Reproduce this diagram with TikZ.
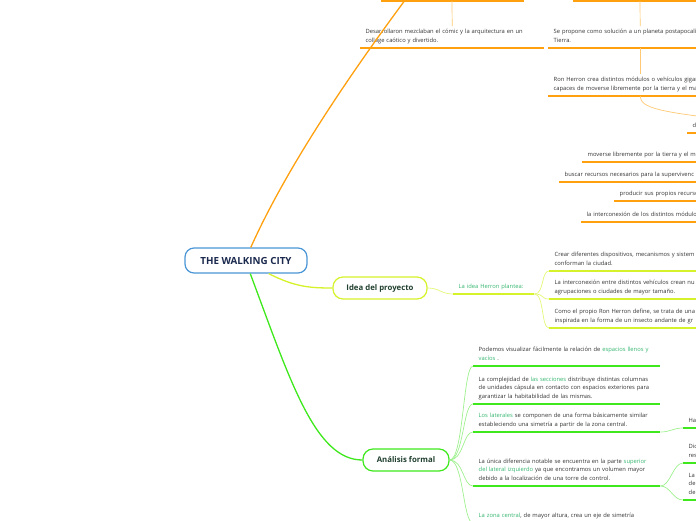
\documentclass[tikz,border=0pt]{standalone}
\usepackage{fontspec}
\setmainfont{Open Sans}
\usepackage{xcolor}
\usetikzlibrary{positioning}

\definecolor{rootblue}{HTML}{4A96D6}
\definecolor{rootink}{HTML}{1B2A4E}
\definecolor{topicink}{HTML}{21402F}
\definecolor{leafink}{HTML}{333333}
\definecolor{hlgreen}{HTML}{34B56E}
\definecolor{orng}{HTML}{FFA00F}
\definecolor{orngthin}{HTML}{FFC873}
\definecolor{lime}{HTML}{D6F22A}
\definecolor{limethin}{HTML}{E4F77A}
\definecolor{grn}{HTML}{3EE81C}
\definecolor{grnthin}{HTML}{9EF08E}

\newcommand{\hlt}[1]{\textcolor{hlgreen}{#1}}

\begin{document}
\begin{tikzpicture}[
    x=1pt, y=-1pt,
    root/.style={draw=rootblue, line width=1.2pt, rounded corners=9pt, fill=white, text=rootink, font=\bfseries\fontsize{9.8}{11}\selectfont, minimum width=122pt, minimum height=25pt},
    topic/.style={line width=1.2pt, rounded corners=10pt, fill=white, text=topicink, font=\bfseries\fontsize{7.8}{9}\selectfont, minimum height=22pt},
    leaf/.style={anchor=south west, align=left, inner xsep=5.5pt, inner ysep=3pt, text=leafink, font=\fontsize{5.8}{8.5}\selectfont, execute at end node=\strut},
    branch/.style={line width=1.3pt},
    twig/.style={line width=0.7pt},
    uline/.style={line width=1.6pt}
]
    \useasboundingbox (0,0) rectangle (696,520);
    \clip (0,0) rectangle (696,520);

    \node (root) [root] at (246,260.5) {THE WALKING CITY};

    % orange branch (topics above the frame)
    \coordinate (orngtopic) at (420,-20);
    \coordinate (topa) at (452,1);
    \coordinate (topb) at (640,1);
    \coordinate (ronhkid) at (730,120);
    \draw [orng, uline] (topa) +(-71,0) -- +(72,0);
    \draw [orng, uline] (topb) +(-67,0) -- +(100,0);

    \node (desa) [leaf, text width=173pt] at (360,48) {Desarrollaron mezclaban el cómic y la arquitectura en un\\collage caótico y divertido.};
    \node (prop) [leaf, text width=173pt] at (548,48) {Se propone como solución a un planeta postapocalí\\Tierra.};
    \node (ronh) [leaf, text width=173pt] at (548,96) {Ron Herron crea distintos módulos o vehículos gigan\\capaces de moverse libremente por la tierra y el ma};
    \node (dnode) [leaf, text width=60pt] at (687,133) {d};
    \node (mov) [leaf, text width=150pt] at (582,162) {moverse libremente por la tierra y el m};
    \node (busc) [leaf, text width=150pt] at (559,182) {buscar recursos necesarios para la supervivenc};
    \node (prod) [leaf, text width=150pt] at (614,201) {producir sus propios recurso};
    \node (inter) [leaf, text width=150pt] at (581,222) {la interconexión de los distintos módulo};

    \draw [orng, branch] (root.70) .. controls (290,160) and (360,60) .. (orngtopic);
    \draw [orng, uline] (desa.south west) -- (desa.south east);
    \draw [orng, uline] (prop.south west) -- (prop.south east);
    \draw [orng, uline] (ronh.south west) -- (ronh.south east);
    \draw [orng, uline] (dnode.south west) -- (dnode.south east);
    \draw [orng, uline] (mov.south west) -- (mov.south east);
    \draw [orng, uline] (busc.south west) -- (busc.south east);
    \draw [orng, uline] (prod.south west) -- (prod.south east);
    \draw [orng, uline] (inter.south west) -- (inter.south east);
    \draw [orngthin, twig] (topa) -- (desa.north);
    \draw [orngthin, twig] (topb) -- (prop.north);
    \draw [orngthin, twig] (prop.south) -- (ronh.north);
    \draw [orngthin, twig] (ronh.south) .. controls +(0,12) and +(-70,-8) .. (ronhkid);

    % yellow branch
    \node (idea) [topic, draw=lime, minimum width=94pt] at (380,288) {Idea del proyecto};
    \node (lah) [leaf, text=hlgreen, text width=70pt] at (453,294) {La idea Herron plantea:};
    \node (crear) [leaf, text width=200pt] at (549,271) {Crear diferentes dispositivos, mecanismos y sistem\\conforman la ciudad.};
    \node (inte) [leaf, text width=200pt] at (549,299) {La interconexión entre distintos vehículos crean nu\\agrupaciones o ciudades de mayor tamaño.};
    \node (como) [leaf, text width=200pt] at (549,328) {Como el propio Ron Herron define, se trata de una\\inspirada en la forma de un insecto andante de gr};

    \draw [lime, branch] (root.-30) .. controls (295,287) and (310,288) .. (idea.west);
    \draw [lime, uline] (lah.south west) -- (lah.south east);
    \draw [lime, uline] (crear.south west) -- (crear.south east);
    \draw [lime, uline] (inte.south west) -- (inte.south east);
    \draw [lime, uline] (como.south west) -- (como.south east);
    \draw [limethin, twig] (idea.east) .. controls +(12,0) and +(-12,0) .. (lah.south west);
    \draw [limethin, twig] (lah.south east) .. controls +(10,0) and +(-8,0) .. (crear.south west);
    \draw [limethin, twig] (lah.south east) .. controls +(10,0) and +(-8,0) .. (inte.south west);
    \draw [limethin, twig] (lah.south east) .. controls +(10,0) and +(-8,0) .. (como.south west);

    % green branch
    \node (anal) [topic, draw=grn, minimum width=86pt] at (406,460) {Análisis formal};
    \node (vis) [leaf, text width=176pt] at (473,366) {Podemos visualizar fácilmente la relación de \hlt{espacios llenos y}\\\hlt{vacíos} .};
    \node (comp) [leaf, text width=176pt] at (473,404) {La complejidad de \hlt{las secciones} distribuye distintas columnas\\de unidades cápsula en contacto con espacios exteriores para\\garantizar la habitabilidad de las mismas.};
    \node (lat) [leaf, text width=176pt] at (473,432) {\hlt{Los laterales} se componen de una forma básicamente similar\\estableciendo una simetría a partir de la zona central.};
    \node (unica) [leaf, text width=176pt] at (473,486) {La única diferencia notable se encuentra en la parte \hlt{superior}\\\hlt{del lateral izquierdo} ya que encontramos un volumen mayor\\debido a la localización de una torre de control.};
    \node (zona) [leaf, text width=176pt] at (473,523) {\hlt{La zona central}, de mayor altura, crea un eje de simetría};
    \node (ha) [leaf, text width=40pt] at (683,428) {Ha};
    \node (dic) [leaf, text width=40pt] at (683,463) {Dic\\res};
    \node (lad) [leaf, text width=40pt] at (683,500) {La\\del\\deb};

    \draw [grn, branch] (root.-72) .. controls (290,380) and (315,460) .. (anal.west);
    \draw [grn, uline] (vis.south west) -- (vis.south east);
    \draw [grn, uline] (comp.south west) -- (comp.south east);
    \draw [grn, uline] (lat.south west) -- (lat.south east);
    \draw [grn, uline] (unica.south west) -- (unica.south east);
    \draw [grn, uline] (zona.south west) -- (zona.south east);
    \draw [grn, uline] (ha.south west) -- (ha.south east);
    \draw [grn, uline] (dic.south west) -- (dic.south east);
    \draw [grn, uline] (lad.south west) -- (lad.south east);
    \draw [grnthin, twig] (anal.east) .. controls +(14,0) and +(-10,0) .. (vis.south west);
    \draw [grnthin, twig] (anal.east) .. controls +(14,0) and +(-10,0) .. (comp.south west);
    \draw [grnthin, twig] (anal.east) .. controls +(14,0) and +(-10,0) .. (lat.south west);
    \draw [grnthin, twig] (anal.east) .. controls +(14,0) and +(-10,0) .. (unica.south west);
    \draw [grnthin, twig] (anal.east) .. controls +(14,0) and +(-10,0) .. (zona.south west);
    \draw [grnthin, twig] (lat.south east) .. controls +(10,0) and +(-10,0) .. (ha.south west);
    \draw [grnthin, twig] (unica.south east) .. controls +(10,0) and +(-10,0) .. (dic.south west);
    \draw [grnthin, twig] (unica.south east) .. controls +(10,0) and +(-10,0) .. (lad.south west);
\end{tikzpicture}
\end{document}
